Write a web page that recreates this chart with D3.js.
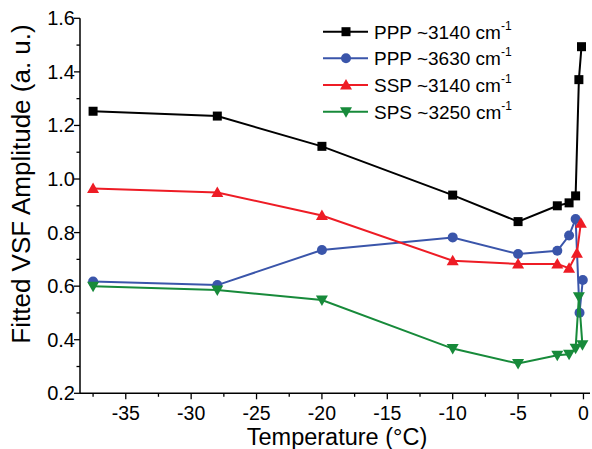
<!DOCTYPE html>
<html><head><meta charset="utf-8">
<script src="https://cdn.jsdelivr.net/npm/d3@7"></script>
<style>body{margin:0;background:#fff}svg{display:block}text{font-family:"Liberation Sans",Arial,sans-serif}</style>
</head><body>
<svg id="c" width="592" height="449"></svg>
<script>
const pppT  = [-37.5,-28,-20,-10,-5,-2,-1.1,-0.6,-0.35,-0.15];
const ppp3140 = [1.253,1.235,1.122,0.940,0.841,0.900,0.911,0.937,1.371,1.494];
const ppp3630T = [-37.5,-28,-20,-10,-5,-2,-1.1,-0.6,-0.3,-0.05];
const ppp3630 = [0.617,0.604,0.735,0.782,0.720,0.732,0.789,0.851,0.501,0.623];
const sspT = [-37.5,-28,-20,-10,-5,-2,-1.1,-0.5,-0.2];
const ssp3140 = [0.965,0.950,0.864,0.695,0.683,0.683,0.667,0.723,0.835];
const spsT = [-37.5,-28,-20,-10,-5,-2,-1.1,-0.6,-0.35,-0.08];
const sps3250 = [0.600,0.586,0.548,0.367,0.311,0.342,0.346,0.368,0.560,0.381];
const seriesNames = ["PPP ~3140 cm","PPP ~3630 cm","SSP ~3140 cm","SPS ~3250 cm"];
const xTicks = [-35,-30,-25,-20,-15,-10,-5,0];
const yTicks = [0.2,0.4,0.6,0.8,1.0,1.2,1.4,1.6];

const colors = ["#000000","#3a55aa","#ee1c25","#178a3a"];
const shapes = ["square","circle","triUp","triDown"];
const series = [
  {name:seriesNames[0], xs:pppT, ys:ppp3140},
  {name:seriesNames[1], xs:ppp3630T, ys:ppp3630},
  {name:seriesNames[2], xs:sspT, ys:ssp3140},
  {name:seriesNames[3], xs:spsT, ys:sps3250}
];

const svg = d3.select("#c");
const L=80, R=590, T=18.3, B=393.3;
const x = d3.scaleLinear().domain([-38.5,0.5]).range([L,R]);
const y = d3.scaleLinear().domain([0.2,1.6]).range([B,T]);

function marker(g, shape, cx, cy, col){
  if(shape==="square") g.append("rect").attr("x",cx-4.5).attr("y",cy-4.5).attr("width",9).attr("height",9).attr("fill",col);
  else if(shape==="circle") g.append("circle").attr("cx",cx).attr("cy",cy).attr("r",5).attr("fill",col);
  else if(shape==="triUp") g.append("path").attr("d",`M${cx},${cy-6}L${cx+6},${cy+4.5}L${cx-6},${cy+4.5}Z`).attr("fill",col);
  else g.append("path").attr("d",`M${cx},${cy+6}L${cx+6},${cy-4.5}L${cx-6},${cy-4.5}Z`).attr("fill",col);
}

// axes
const xMinor = d3.range(-37.5,0.01,2.5);
const yMinor = d3.range(0.2,1.601,0.1);
const ax = svg.append("g");
ax.append("line").attr("x1",L).attr("x2",R).attr("y1",B).attr("y2",B).attr("stroke","#000").attr("stroke-width",1.5);
ax.append("line").attr("x1",L).attr("x2",L).attr("y1",B).attr("y2",T).attr("stroke","#000").attr("stroke-width",1.5);
xMinor.forEach(v=>{ const major = xTicks.some(t=>Math.abs(t-v)<1e-6);
  ax.append("line").attr("x1",x(v)).attr("x2",x(v)).attr("y1",B).attr("y2",B+(major?6:3.5)).attr("stroke","#000").attr("stroke-width",1.3);});
yMinor.forEach(v=>{ const major = yTicks.some(t=>Math.abs(t-v)<1e-6);
  ax.append("line").attr("y1",y(v)).attr("y2",y(v)).attr("x1",L).attr("x2",L-(major?6:3.5)).attr("stroke","#000").attr("stroke-width",1.3);});
xTicks.forEach(v=>ax.append("text").attr("x",x(v)).attr("y",419.5).attr("text-anchor","middle").attr("font-size",19.5).text(v));
yTicks.forEach(v=>ax.append("text").attr("x",75).attr("y",y(v)+7).attr("text-anchor","end").attr("font-size",20).text(v.toFixed(1)));
ax.append("text").attr("x",337).attr("y",445).attr("text-anchor","middle").attr("font-size",23.5).text("Temperature (°C)");
ax.append("text").attr("transform","translate(30,184) rotate(-90)").attr("text-anchor","middle").attr("font-size",26).text("Fitted VSF Amplitude (a. u.)");

// series
const line = d3.line();
series.forEach((s,i)=>{
  const g = svg.append("g");
  const pts = s.xs.map((t,j)=>[x(t),y(s.ys[j])]);
  g.append("path").attr("d",line(pts)).attr("fill","none").attr("stroke",colors[i]).attr("stroke-width",2);
  pts.forEach(p=>marker(g,shapes[i],p[0],p[1],colors[i]));
});

// legend
const lg = svg.append("g");
const rowsY=[31.7,58.3,85,111.7];
series.forEach((s,i)=>{
  lg.append("line").attr("x1",323).attr("x2",368).attr("y1",rowsY[i]).attr("y2",rowsY[i]).attr("stroke",colors[i]).attr("stroke-width",2);
  marker(lg,shapes[i],346,rowsY[i],colors[i]);
  const t = lg.append("text").attr("x",374).attr("y",rowsY[i]+7).attr("font-size",19).text(s.name);
  t.append("tspan").attr("font-size",12).attr("dy",-9).text("-1");
});
</script>
</body></html>
